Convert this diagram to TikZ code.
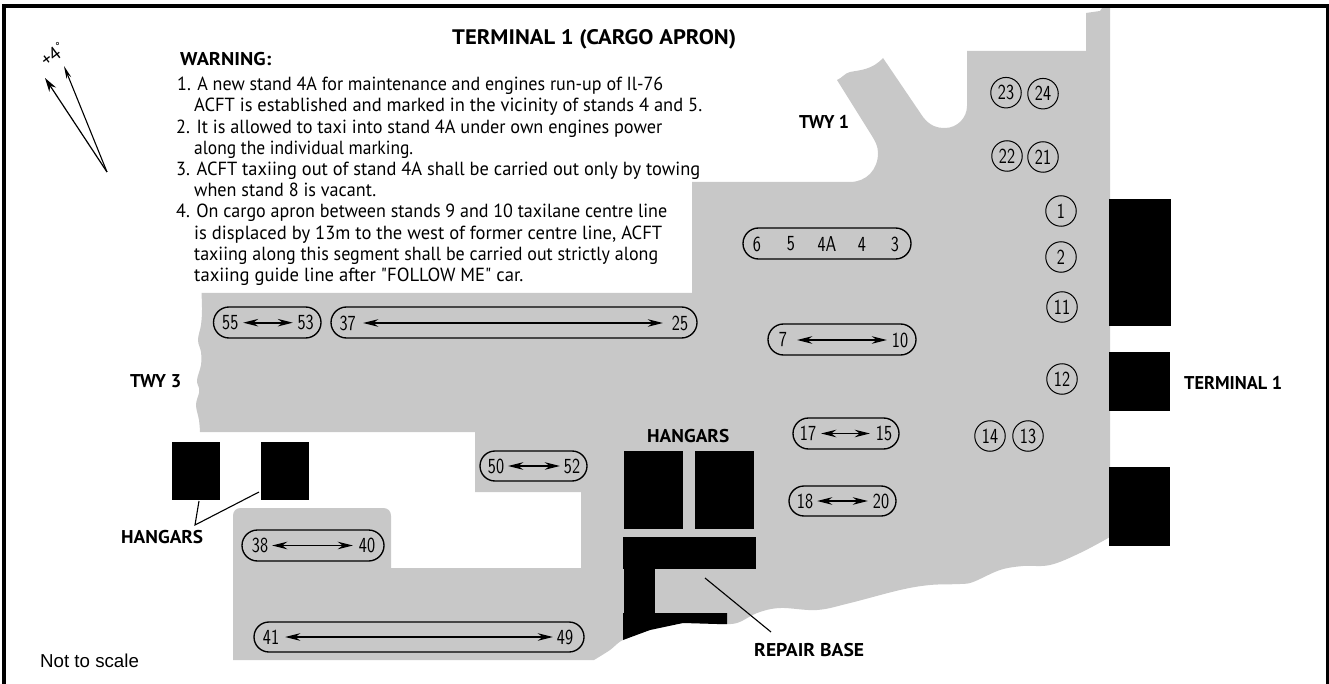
\documentclass[tikz,border=0pt]{standalone}
\usepackage{fontspec}
\usepackage{graphicx}
\setmainfont{PT Sans}
\newfontfamily\rawfont{PT Sans}
\usetikzlibrary{arrows.meta,shapes.misc}
\definecolor{apron}{HTML}{C8C8C8}
\newfontfamily\plainfont{Liberation Sans}
\newcommand\narrow[1]{\scalebox{.8}[1]{\sffamily #1}}
\tikzset{
  pill/.style={draw=black,line width=1.35pt,rounded rectangle,inner sep=0pt},
  disc/.style={draw=black,line width=1pt,circle,minimum size=30.5pt,inner sep=0pt,font=\fontsize{21.5}{21.5}\selectfont},
  num/.style={inner sep=0pt,font=\fontsize{21.5}{21.5}\selectfont},
  lab/.style={anchor=base west,inner sep=0pt},
  body/.style={lab,font=\fontsize{19}{19}\selectfont},
  head/.style={lab,font=\fontsize{18.5}{18.5}\selectfont\bfseries},
  block/.style={fill=black,draw=none},
  dbl/.style={line width=1.6pt,{Stealth[length=15pt,width=7.5pt]}-{Stealth[length=15pt,width=7.5pt]}},
  leader/.style={line width=1.1pt,draw=black},
  tilted/.style={rotate=37,inner sep=0pt,font=\fontsize{19}{19}\selectfont},
}
\newcommand\stand[5]{%
  \pgfmathsetmacro\pw{#4-#2}\pgfmathsetmacro\ph{#5-#3}%
  \pgfmathsetmacro\px{(#2+#4)/2}\pgfmathsetmacro\py{(#3+#5)/2}%
  \node[pill,minimum width=\pw pt,minimum height=\ph pt] (#1) at (\px,\py) {};}
\newcommand\duo[7]{%
  \pgfmathsetmacro\wa{2*abs(#3-#2)}\pgfmathsetmacro\wb{2*abs(#6-#5)}%
  \node[num,minimum width=\wa pt] (n#1) at (#2,#7) {\narrow{#1}};
  \node[num,minimum width=\wb pt] (n#4) at (#5,#7) {\narrow{#4}};
  \draw[dbl] (n#1) -- (n#4);}
\newcommand\one[3]{\node[num] (n#1) at (#2,#3) {\narrow{#1}};}
\newcommand\ring[3]{\node[disc] (c#1) at (#2,#3) {\narrow{#1}};}
\newcommand\fit[6]{\node[#5] (#1) at (#2,#3) {\resizebox{#4pt}{\height}{#6}};}
\begin{document}
\begin{tikzpicture}[x=1pt,y=-1pt]
\useasboundingbox (0,0) rectangle (1329,684);
\fill[white] (0,0) rectangle (1329,684);
% apron
\fill[apron] (1110,8) -- (1110,537)
 -- plot[smooth,tension=.6] coordinates {(1110,537) (1080,553) (1050,565) (1023,566) (1000,570) (973,582) (960,584) (930,585) (900,590) (850,603) (817,610) (780,608) (757,613) (737,623) (717,624) (683,623) (650,630) (623,640) (610,650) (594,660)}
 -- (233,660) -- (233,516) .. controls (233,511) and (236,508) .. (241,508) -- (383,508) .. controls (388,508) and (391,511) .. (391,516)
 -- (391,568) -- (581,568) -- (581,492) -- (475,492) -- (475,432) -- (200,432)
 -- plot[smooth,tension=.6] coordinates {(200,432) (199,420) (196,405) (199,393) (199,388) (197,380) (201,365) (201,352) (198,340) (201,325) (202,310) (201.5,293)}
 -- (692,293) -- (692,182) -- (850,182) .. controls (866,182) and (878,170) .. (878,153) .. controls (878,146) and (875,141) .. (872,136)
 -- (837,80) .. controls (842,78) and (845,73) .. (850,72) .. controls (860,70) and (872,70) .. (883,58)
 -- (923,117) .. controls (930,126) and (937,128) .. (945,128) .. controls (957,128) and (967,118) .. (967,106)
 -- (967,51) -- (1086,51) -- (1086,13) -- (1100,11) -- (1102,8) -- cycle;
% frame
\fill[black] (2,4) rectangle (1329,8);
\fill[black] (2,4) rectangle (6,684);
\fill[black] (1326,4) rectangle (1329,684);
% buildings
\fill[block] (1109,199) rectangle (1171,326);
\fill[block] (1109,352) rectangle (1170,411);
\fill[block] (1109,467) rectangle (1170,546);
\node[block,minimum width=48pt,minimum height=58pt,inner sep=0pt] (hangarA) at (196,471) {};
\node[block,minimum width=48pt,minimum height=58pt,inner sep=0pt] (hangarB) at (285,471) {};
\fill[block] (624,451) rectangle (683,529);
\fill[block] (695,451) rectangle (754,529);
\fill[block] (623,537) rectangle (756,569);
\fill[block] (624,569) rectangle (655,613);
\fill[block] (623,613) -- (727,613) -- (727,624) -- (717,624) -- (683,623) -- (650,630) -- (623,640) -- cycle;
% leaders
\coordinate (hangarFoot) at (195,525);
\coordinate (hangarTopA) at (199,501);
\coordinate (hangarTopB) at (259,492);
\coordinate (repairA) at (705,578);
\coordinate (repairB) at (771,632);
\draw[leader] (hangarTopA) -- (hangarFoot) -- (hangarTopB);
\draw[leader] (repairA) -- (repairB);
% north arrows
\coordinate (tail) at (107,172);
\coordinate (magN) at (45,78);
\coordinate (trueN) at (64,66);
\draw[line width=1.2pt,-{Stealth[length=14pt,width=8pt]}] (tail) -- (magN);
\draw[line width=1.1pt,-{Stealth[length=13pt,width=5pt]}] (tail) -- (trueN);
\node[tilted] (var) at (50.5,56.5) {+4};
\node[rotate=37,inner sep=0pt,font=\fontsize{11}{11}\selectfont] (deg) at (59,46) {°};
% stands
\stand{p55}{213.5}{307}{321}{338}
\duo{55}{230.3}{243}{53}{305.7}{293}{322.7}
\stand{p37}{331}{307}{697}{338}
\duo{37}{347.7}{363}{25}{680}{663}{323}
\stand{p6}{743}{228}{911}{259}
\one{6}{757}{244}\one{5}{791}{244}\one{4A}{827}{244}\one{4}{862}{244}\one{3}{895}{244}
\stand{p7}{768}{324}{916}{355}
\duo{7}{783}{797}{10}{900}{887}{340}
\stand{p17}{793}{418}{899}{449}
\duo{17}{808}{821}{15}{884}{870}{433.5}
\stand{p18}{789}{486}{896}{516}
\duo{18}{805}{817}{20}{881}{868}{501}
\stand{p50}{480}{451}{587}{481}
\duo{50}{496}{508}{52}{572}{560}{466}
\stand{p38}{242}{530}{384}{561}
\duo{38}{260}{272}{40}{367}{353}{545.5}
\stand{p41}{254}{622}{584}{652}
\duo{41}{271}{285}{49}{565}{553}{637}
\ring{23}{1006}{92.7}\ring{24}{1043}{93.7}
\ring{22}{1007}{156}\ring{21}{1043}{157}
\ring{1}{1061}{211}\ring{2}{1061}{257}
\ring{11}{1062}{307}\ring{12}{1062}{379}
\ring{14}{990}{436}\ring{13}{1028}{436}
% labels
\fit{title}{452}{45}{284}{head}{\fontsize{21}{21}\selectfont TERMINAL 1 (CARGO APRON)}
\fit{warn}{180}{66}{91}{head}{WARNING:}
\fit{l1}{177}{90.7}{486}{body}{1. A new stand 4A for maintenance and engines run-up of Il-76}
\fit{l2}{194}{111.9}{508}{body}{ACFT is established and marked in the vicinity of stands 4 and 5.}
\fit{l3}{176}{133.1}{486}{body}{2. It is allowed to taxi into stand 4A under own engines power}
\fit{l4}{194}{154.3}{219}{body}{along the individual marking.}
\fit{l5}{176}{175.5}{524}{body}{3. ACFT taxiing out of stand 4A shall be carried out only by towing}
\fit{l6}{194}{196.7}{182}{body}{when stand 8 is vacant.}
\fit{l7}{176}{217.9}{491}{body}{4. On cargo apron between stands 9 and 10 taxilane centre line}
\fit{l8}{194}{239.1}{468}{body}{is displaced by 13m to the west of former centre line, ACFT}
\fit{l9}{194}{260.3}{464}{body}{taxiing along this segment shall be carried out strictly along}
\fit{l10}{194}{281.5}{329}{body}{\rawfont taxiing guide line after "FOLLOW ME" car.}
\fit{twy1}{799}{129}{50}{head}{TWY 1}
\fit{twy3}{130}{387}{51}{head}{TWY 3}
\fit{hangL}{121}{543}{82}{head}{HANGARS}
\fit{hangC}{647}{442}{82}{head}{HANGARS}
\fit{repair}{754}{656}{110}{head}{REPAIR BASE}
\fit{term}{1184}{389}{98}{head}{TERMINAL 1}
\node[lab,font=\plainfont\fontsize{18.7}{18.7}\selectfont] (scale) at (40,667) {Not to scale};
\end{tikzpicture}
\end{document}
